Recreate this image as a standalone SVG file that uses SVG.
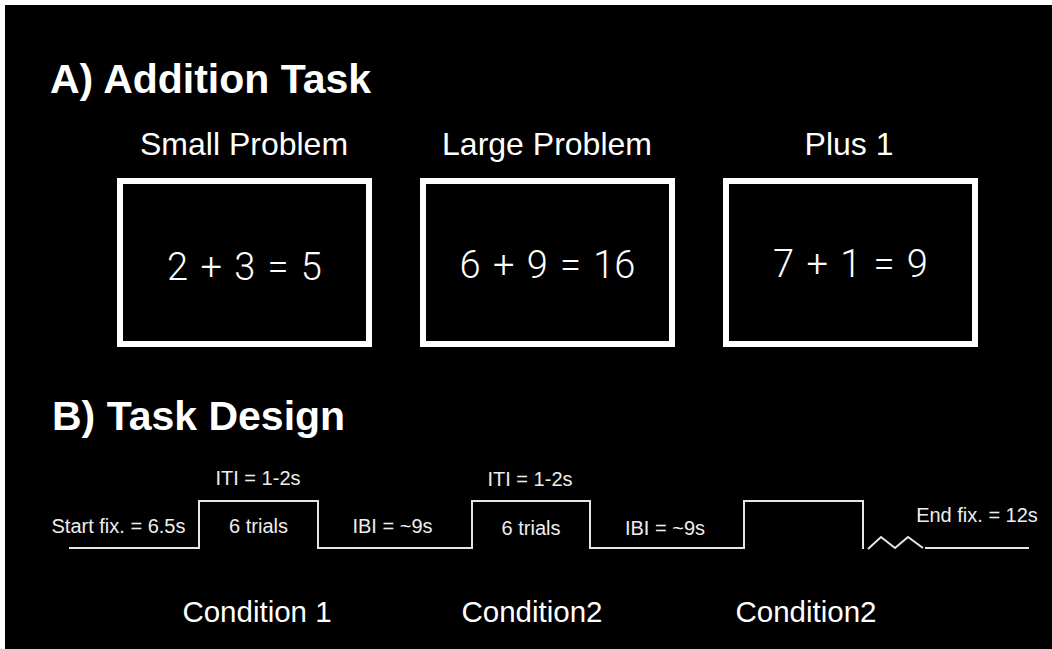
<svg xmlns="http://www.w3.org/2000/svg" width="1052" height="649" viewBox="0 0 1052 649">
  <style>
    .title { font-family: "Liberation Sans", Arial, sans-serif; font-weight: bold; font-size: 41px; fill: #ffffff; }
    .label { font-family: "Liberation Sans", Arial, sans-serif; font-size: 32px; fill: #ffffff; text-anchor: middle; }
    .screen { fill: #000000; stroke: #ffffff; stroke-width: 6; }
    .sum { font-family: Roboto, Lato, "Open Sans", sans-serif; font-weight: 300; font-size: 38px; word-spacing: 3px; fill: #ffffff; text-anchor: middle; }
    .small { font-family: "Liberation Sans", Arial, sans-serif; font-size: 20px; fill: #eeeeee; text-anchor: middle; }
    .cond { font-family: "Liberation Sans", Arial, sans-serif; font-size: 29.5px; fill: #ffffff; text-anchor: middle; }
    .wave { fill: none; stroke: #e6e6e6; stroke-width: 2; stroke-linejoin: miter; }
  </style>

  <!-- page -->
  <rect x="0" y="0" width="1052" height="649" fill="#ffffff"/>
  <rect x="5" y="5" width="1047" height="644" fill="#000000"/>

  <!-- section A -->
  <text class="title" x="50" y="93">A) Addition Task</text>

  <g id="small-problem">
    <text class="label" x="244" y="155">Small Problem</text>
    <rect class="screen" x="120" y="181" width="249" height="163"/>
    <text class="sum" x="244.5" y="280">2 + 3 = 5</text>
  </g>

  <g id="large-problem">
    <text class="label" x="547" y="155">Large Problem</text>
    <rect class="screen" x="423" y="181" width="249" height="163"/>
    <text class="sum" x="547.5" y="278">6 + 9 = 16</text>
  </g>

  <g id="plus-one">
    <text class="label" x="849" y="155">Plus 1</text>
    <rect class="screen" x="726" y="181" width="249" height="163"/>
    <text class="sum" x="850.5" y="277">7 + 1 = 9</text>
  </g>

  <!-- section B -->
  <text class="title" x="52" y="430">B) Task Design</text>

  <g id="connectors">
    <!-- block timeline -->
    <polyline class="wave" points="69,548 199,548 199,501 318,501 318,548 472,548 472,501 590,501 590,548 744,548 744,501 863,501 863,549"/>
    <!-- break in time -->
    <polyline class="wave" points="868,549 881,537 895,548 908,537 923,548"/>
    <line class="wave" x1="925" y1="548" x2="1029" y2="548"/>
  </g>

  <g id="start-fixation">
    <text class="small" x="118.5" y="533">Start fix. = 6.5s</text>
  </g>

  <g id="block-1">
    <text class="small" x="258" y="485">ITI = 1-2s</text>
    <text class="small" x="258.5" y="533">6 trials</text>
    <text class="cond" x="257" y="622">Condition 1</text>
  </g>

  <g id="rest-1">
    <text class="small" x="392.5" y="533">IBI = ~9s</text>
  </g>

  <g id="block-2">
    <text class="small" x="530" y="486">ITI = 1-2s</text>
    <text class="small" x="531" y="535">6 trials</text>
    <text class="cond" x="532" y="622">Condition2</text>
  </g>

  <g id="rest-2">
    <text class="small" x="665" y="535">IBI = ~9s</text>
  </g>

  <g id="block-3">
    <text class="cond" x="806" y="622">Condition2</text>
  </g>

  <g id="end-fixation">
    <text class="small" x="977" y="522">End fix. = 12s</text>
  </g>
</svg>
